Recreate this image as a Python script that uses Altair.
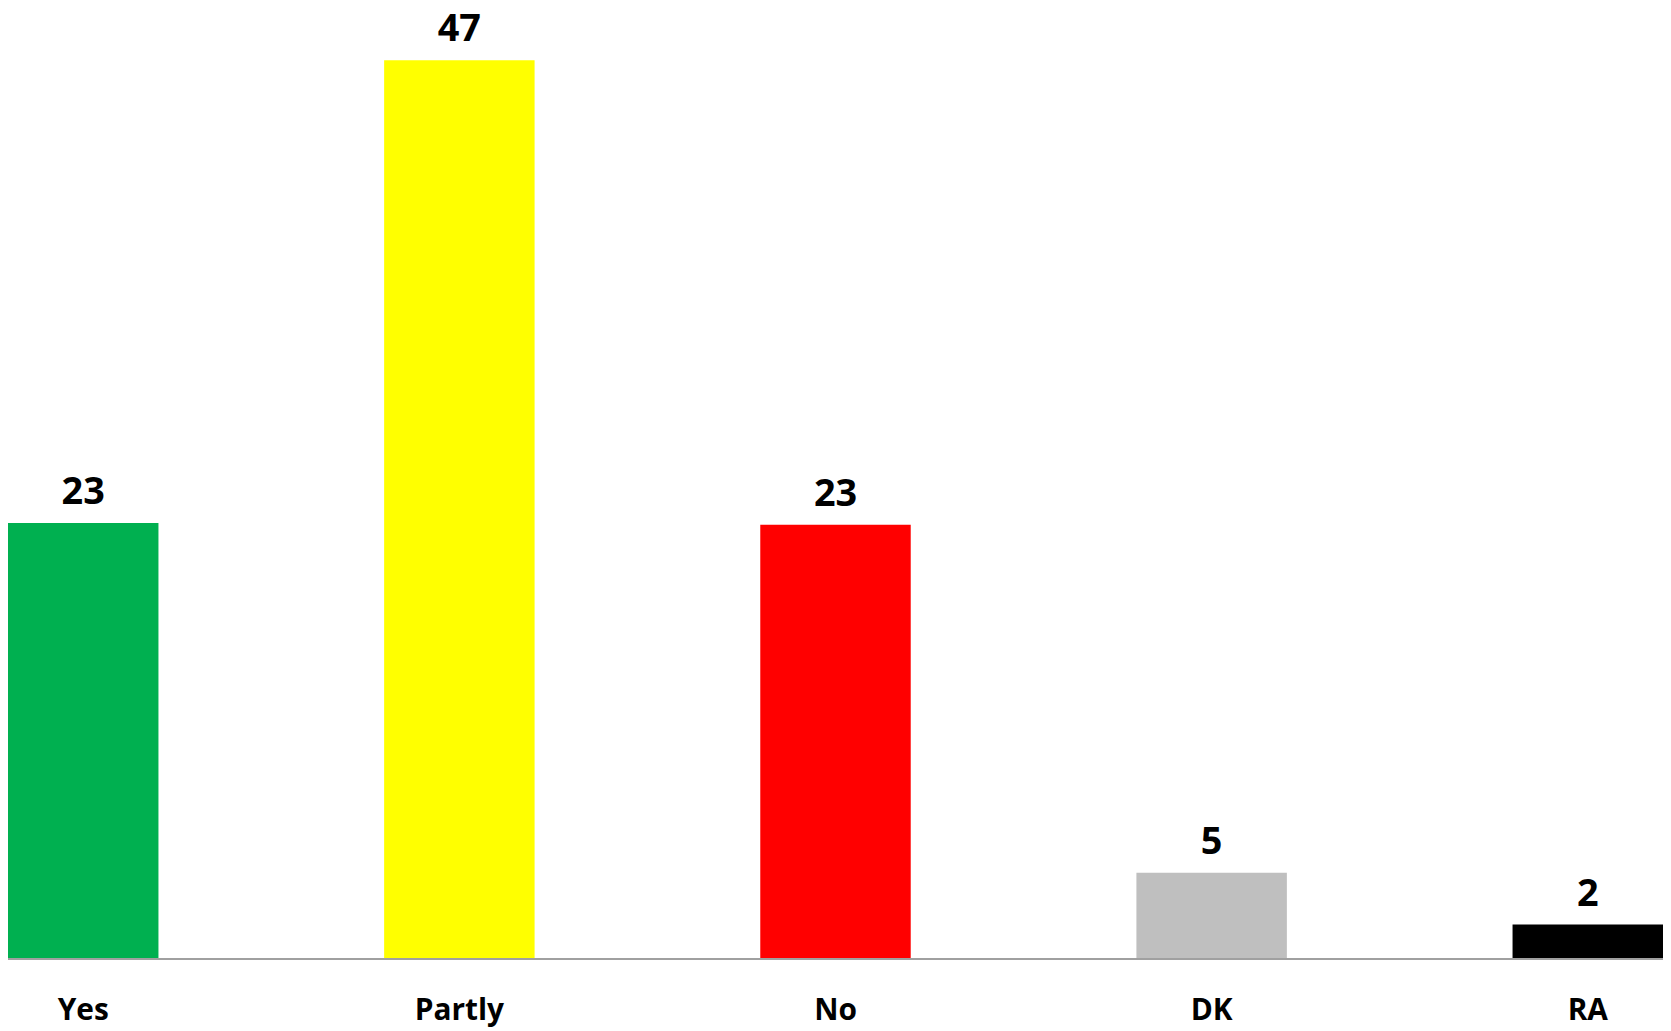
import altair as alt
import pandas as pd

categories = ["Yes", "Partly", "No", "DK", "RA"]
values = [22.8, 47.0, 22.7, 4.5, 1.8]
colors = ["#00B050", "#FFFF00", "#FF0000", "#BFBFBF", "#000000"]

df = pd.DataFrame({"cat": categories, "val": values, "col": colors})

W = 1663
H = 953
FONT = "Open Sans"

x = alt.X("cat:N", sort=categories,
          scale=alt.Scale(paddingInner=0.6, paddingOuter=0),
          axis=alt.Axis(title=None, domain=False, ticks=False, labelAngle=0,
                        labelFont=FONT, labelFontSize=30, labelFontWeight="bold",
                        labelColor="#000000", labelBaseline="alphabetic", labelPadding=61))
y = alt.Y("val:Q", scale=alt.Scale(domain=[0, 49.6], nice=False, zero=True), axis=None)

base = alt.Chart(df)

bars = base.mark_bar().encode(
    x=x, y=y,
    color=alt.Color("col:N", scale=None, legend=None),
)

labels = base.mark_text(baseline="alphabetic", dy=-19, font=FONT, fontSize=38,
                        fontWeight="bold", color="#000000").encode(
    x=x, y=y, text=alt.Text("val:Q", format=".0f"))

baseline = base.mark_rule(color="#A0A0A0", strokeWidth=2).encode(
    x=alt.value(0), x2=alt.value(W), y=alt.value(H)
)

chart = alt.layer(bars, baseline, labels).properties(
    width=W, height=H,
    padding={"left": 0, "top": 0, "right": 0, "bottom": 70},
    autosize=alt.AutoSizeParams(type="none"),
    background="white"
).configure_view(stroke=None)

chart.save("out.html", embed_options={"renderer": "svg", "actions": False})
